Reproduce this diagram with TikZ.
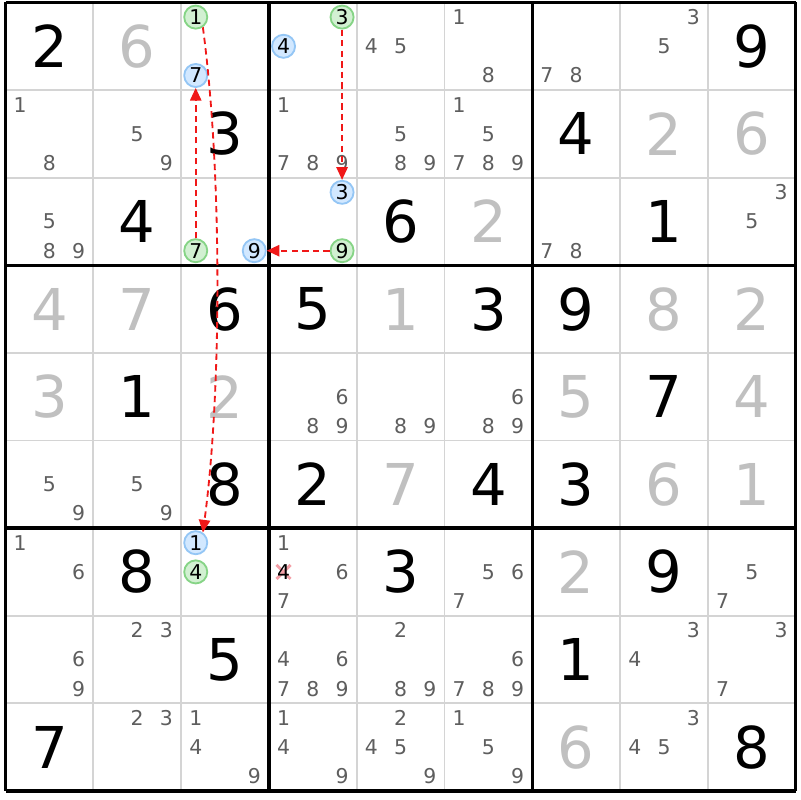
\documentclass[tikz,border=0pt]{standalone}
\usepackage{fontspec}
\setmainfont{DejaVu Sans}
\usetikzlibrary{arrows.meta}
\definecolor{candgray}{HTML}{5E5E5E}
\definecolor{givengray}{HTML}{C0C0C0}
\definecolor{thingrid}{HTML}{D4D4D4}
\definecolor{gfill}{HTML}{D2F0D2}
\definecolor{gline}{HTML}{86D486}
\definecolor{bfill}{HTML}{D2E8FF}
\definecolor{bline}{HTML}{94C6F5}
\definecolor{linkred}{HTML}{F01818}
\definecolor{crosspink}{HTML}{F4A0A8}
\tikzset{
  bigdigit/.style={inner sep=0pt, font=\fontsize{41}{41}\selectfont},
  cand/.style={inner sep=0pt, text=candgray, font=\fontsize{14.5}{14.5}\selectfont},
  gcirc/.style={circle, draw=gline, fill=gfill, line width=1.3pt, minimum size=16.4pt, inner sep=0pt, text=black, font=\fontsize{14.5}{14.5}\selectfont},
  bcirc/.style={circle, draw=bline, fill=bfill, line width=1.3pt, minimum size=16.4pt, inner sep=0pt, text=black, font=\fontsize{14.5}{14.5}\selectfont},
  link/.style={draw=linkred, line width=1.3pt, dash pattern=on 4.5pt off 3pt, -{Triangle[length=9pt,width=8pt,fill=linkred]}},
  thin/.style={draw=thingrid, line width=1.4pt},
  thick/.style={draw=black, line width=2.3pt},
}
\def\sx{87.8}
\def\sy{87.6}
\begin{document}
\begin{tikzpicture}[x=0.025cm,y=-0.025cm]
\useasboundingbox (0,0) rectangle (800,800);
\fill[white] (0,0) rectangle (800,800);
% thin lines
\foreach \k in {1,2,4,5,7,8}{
  \draw[thin] ({5.5+\sx*\k},2.5) -- ({5.5+\sx*\k},{2.5+9*\sy});
  \draw[thin] (5.5,{2.5+\sy*\k}) -- ({5.5+9*\sx},{2.5+\sy*\k});
}
% thick lines
\foreach \k in {0,3,6,9}{
  \draw[thick] ({5.5+\sx*\k},2.5) -- ({5.5+\sx*\k},{2.5+9*\sy});
  \draw[thick] (5.5,{2.5+\sy*\k}) -- ({5.5+9*\sx},{2.5+\sy*\k});
}
% given digits (black)
\foreach \r/\c/\d in {0/0/2, 0/8/9, 1/2/3, 1/6/4, 2/1/4, 2/4/6, 2/7/1, 3/2/6, 3/3/5, 3/5/3, 3/6/9, 4/1/1, 4/7/7, 5/2/8, 5/3/2, 5/5/4, 5/6/3, 6/1/8, 6/4/3, 6/7/9, 7/2/5, 7/6/1, 8/0/7, 8/8/8}{
  \node[bigdigit, text=black] (g-\r-\c) at ({5.5+\sx*(\c+0.5)},{2.5+\sy*(\r+0.5)}) {\d};
}
% solved digits (gray)
\foreach \r/\c/\d in {0/1/6, 1/7/2, 1/8/6, 2/5/2, 3/0/4, 3/1/7, 3/4/1, 3/7/8, 3/8/2, 4/0/3, 4/2/2, 4/6/5, 4/8/4, 5/4/7, 5/7/6, 5/8/1, 6/6/2, 8/6/6}{
  \node[bigdigit, text=givengray] (s-\r-\c) at ({5.5+\sx*(\c+0.5)},{2.5+\sy*(\r+0.5)}) {\d};
}
% cross on eliminated candidate (r6 c3, digit 4)
\coordinate (xc) at ({5.5+\sx*(3+1/6)},{2.5+\sy*(6+3/6)});
\draw[crosspink, line width=2.1pt] ([shift={(-7,-7)}]xc) -- ([shift={(7,7)}]xc) ([shift={(-7,7)}]xc) -- ([shift={(7,-7)}]xc);
\node[cand, text=black] (k-6-3-4) at (xc) {4};
% plain candidates
\foreach \r/\c/\L in {0/4/{4,5}, 0/5/{1,8}, 0/6/{7,8}, 0/7/{3,5},
  1/0/{1,8}, 1/1/{5,9}, 1/3/{1,7,8,9}, 1/4/{5,8,9}, 1/5/{1,5,7,8,9},
  2/0/{5,8,9}, 2/6/{7,8}, 2/8/{3,5},
  4/3/{6,8,9}, 4/4/{8,9}, 4/5/{6,8,9},
  5/0/{5,9}, 5/1/{5,9},
  6/0/{1,6}, 6/3/{1,6,7}, 6/5/{5,6,7}, 6/8/{5,7},
  7/0/{6,9}, 7/1/{2,3}, 7/3/{4,6,7,8,9}, 7/4/{2,8,9}, 7/5/{6,7,8,9}, 7/7/{3,4}, 7/8/{3,7},
  8/1/{2,3}, 8/2/{1,4,9}, 8/3/{1,4,9}, 8/4/{2,4,5,9}, 8/5/{1,5,9}, 8/7/{3,4,5}}{
  \foreach \n in \L {
    \pgfmathsetmacro\cx{5.5+\sx*(\c+(2*mod(\n-1,3)+1)/6)}
    \pgfmathsetmacro\cy{2.5+\sy*(\r+(2*floor((\n-1)/3)+1)/6)}
    \node[cand] (k-\r-\c-\n) at (\cx,\cy) {\n};
  }
}
% highlighted candidates
\foreach \r/\c/\n/\s in {0/2/1/gcirc, 0/2/7/bcirc, 0/3/3/gcirc, 0/3/4/bcirc, 2/2/7/gcirc, 2/2/9/bcirc, 2/3/3/bcirc, 2/3/9/gcirc, 6/2/1/bcirc, 6/2/4/gcirc}{
  \pgfmathsetmacro\cx{5.5+\sx*(\c+(2*mod(\n-1,3)+1)/6)}
  \pgfmathsetmacro\cy{2.5+\sy*(\r+(2*floor((\n-1)/3)+1)/6)}
  \node[\s] (h-\r-\c-\n) at (\cx,\cy) {\n};
}
% links
\draw[link] (h-0-3-3.south) -- (h-2-3-3.north);
\draw[link] (h-2-3-9.west) -- (h-2-2-9.east);
\draw[link] (h-2-2-7.north) -- (h-0-2-7.south);
\draw[link] (h-0-2-1.-55) .. controls (222,170) and (222,390) .. (h-6-2-1.55);
\end{tikzpicture}
\end{document}
